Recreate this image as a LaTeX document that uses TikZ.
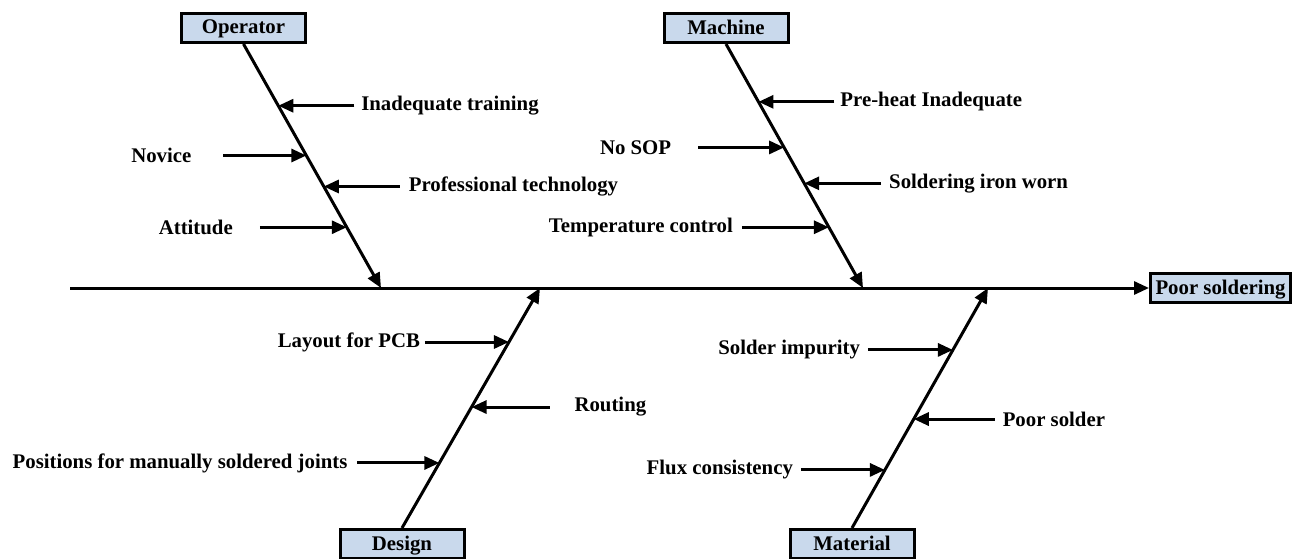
\documentclass[tikz,border=0pt]{standalone}
\usepackage{fontspec}
\setmainfont{Liberation Serif}
\usetikzlibrary{arrows.meta,positioning,calc}
\definecolor{catblue}{RGB}{201,217,236}

\begin{document}
\begin{tikzpicture}[
    x=1pt, y=-1pt,
    font=\fontsize{20.8}{25}\selectfont\bfseries,
    line width=3pt,
    cat/.style={draw, fill=catblue, minimum width=124pt, minimum height=29pt, inner sep=0pt, text depth=2pt},
    cause/.style={inner ysep=2pt, outer sep=0pt},
    arrow/.style={-{Triangle[length=15pt,width=13pt]}}
]
\useasboundingbox (0,0) rectangle (1298,559);

% head and spine
\node[cat, minimum width=140pt] (effect) at (1220.5,288) {Poor soldering};
\coordinate (tail) at (70,288);
\draw[arrow] (tail) -- (effect);

% category boxes and where their bones meet the spine
\node[cat] (op) at (243.5,28) {Operator};
\node[cat] (ma) at (726,28) {Machine};
\node[cat] (de) at (402,544) {Design};
\node[cat] (mt) at (852,544) {Material};
\coordinate (opj) at (381,288);
\coordinate (maj) at (863,288);
\coordinate (dej) at (540,288);
\coordinate (mtj) at (988,288);
\draw[arrow] (op.south) -- (opj);
\draw[arrow] (ma.south) -- (maj);
\draw[arrow] (de.north) -- (dej);
\draw[arrow] (mt.north) -- (mtj);

% points on the bones
\coordinate (op1) at ($(op.south)!0.253!(opj)$);
\coordinate (op2) at ($(op.south)!0.457!(opj)$);
\coordinate (op3) at ($(op.south)!0.584!(opj)$);
\coordinate (op4) at ($(op.south)!0.751!(opj)$);
\coordinate (ma1) at ($(ma.south)!0.237!(maj)$);
\coordinate (ma2) at ($(ma.south)!0.424!(maj)$);
\coordinate (ma3) at ($(ma.south)!0.571!(maj)$);
\coordinate (ma4) at ($(ma.south)!0.751!(maj)$);
\coordinate (de1) at ($(de.north)!0.775!(dej)$);
\coordinate (de2) at ($(de.north)!0.504!(dej)$);
\coordinate (de3) at ($(de.north)!0.271!(dej)$);
\coordinate (mt1) at ($(mt.north)!0.742!(mtj)$);
\coordinate (mt2) at ($(mt.north)!0.454!(mtj)$);
\coordinate (mt3) at ($(mt.north)!0.242!(mtj)$);

% causes
\node[cause, inner xsep=7pt, right=76pt of op1] (training) {Inadequate training};
\node[cause, inner xsep=32pt, left=83pt of op2] (novice) {Novice};
\node[cause, inner xsep=9pt, right=76pt of op3] (tech) {Professional technology};
\node[cause, inner xsep=27pt, left=87pt of op4] (attitude) {Attitude};
\node[cause, inner xsep=6pt, right=76pt of ma1] (preheat) {Pre-heat Inadequate};
\node[cause, inner xsep=27pt, left=86pt of ma2] (nosop) {No SOP};
\node[cause, inner xsep=8pt, right=77pt of ma3] (iron) {Soldering iron worn};
\node[cause, inner xsep=9pt, left=87pt of ma4] (temp) {Temperature control};
\node[cause, inner xsep=5pt, left=84pt of de1] (layout) {Layout for PCB};
\node[cause, inner xsep=25pt, right=78pt of de2] (routing) {Routing};
\node[cause, inner xsep=10pt, left=82pt of de3] (joints) {Positions for manually soldered joints};
\node[cause, inner xsep=8pt, left=85pt of mt1] (impurity) {Solder impurity};
\node[cause, inner xsep=8pt, right=81pt of mt2] (poor) {Poor solder};
\node[cause, inner xsep=8pt, left=84pt of mt3] (flux) {Flux consistency};

\draw[arrow] (training) -- (op1);
\draw[arrow] (novice) -- (op2);
\draw[arrow] (tech) -- (op3);
\draw[arrow] (attitude) -- (op4);
\draw[arrow] (preheat) -- (ma1);
\draw[arrow] (nosop) -- (ma2);
\draw[arrow] (iron) -- (ma3);
\draw[arrow] (temp) -- (ma4);
\draw[arrow] (layout) -- (de1);
\draw[arrow] (routing) -- (de2);
\draw[arrow] (joints) -- (de3);
\draw[arrow] (impurity) -- (mt1);
\draw[arrow] (poor) -- (mt2);
\draw[arrow] (flux) -- (mt3);
\end{tikzpicture}
\end{document}
